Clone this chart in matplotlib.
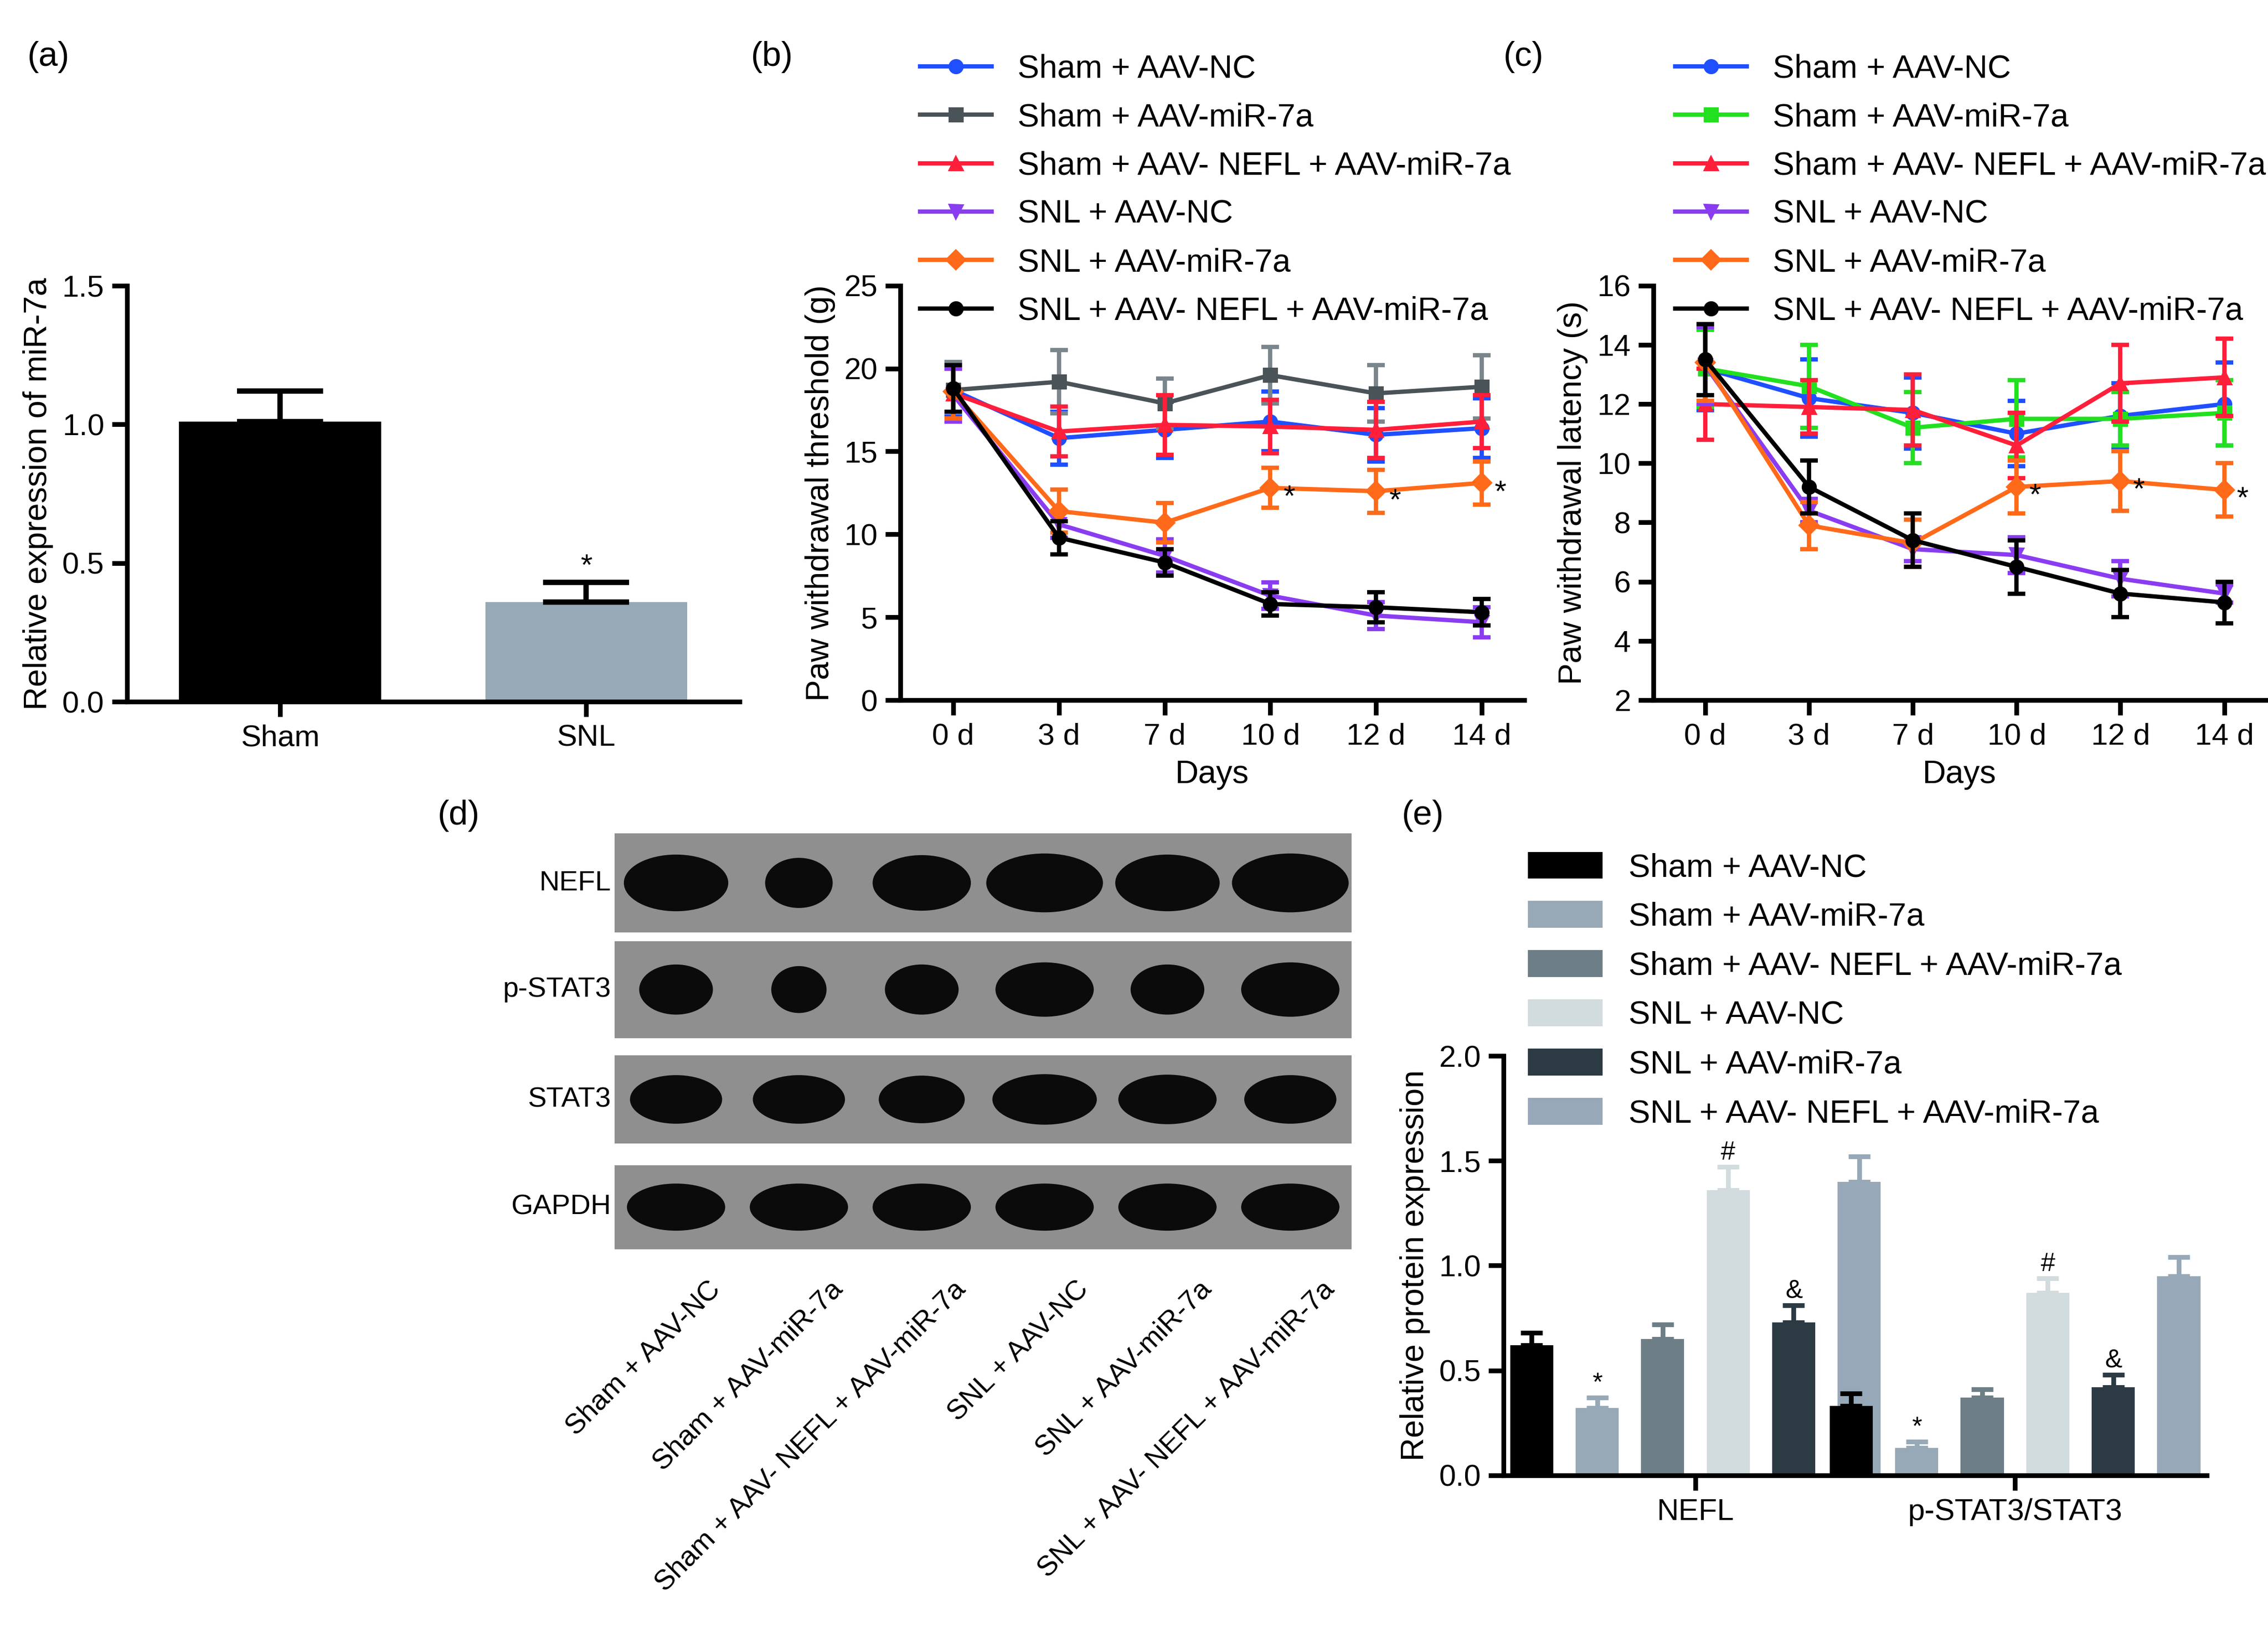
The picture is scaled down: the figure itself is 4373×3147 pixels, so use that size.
import numpy as np
import matplotlib
matplotlib.use('Agg')
import matplotlib.pyplot as plt
from matplotlib.patches import Ellipse, Rectangle

plt.rcParams['font.family'] = ['Liberation Sans', 'DejaVu Sans']
plt.rcParams['axes.linewidth'] = 2.2

# (a)
a_groups = ['Sham', 'SNL']
a_vals = [1.01, 0.36]
a_err = [0.11, 0.07]

# (b) / (c)
days = ['0 d', '3 d', '7 d', '10 d', '12 d', '14 d']
series_names = ['Sham + AAV-NC', 'Sham + AAV-miR-7a', 'Sham + AAV- NEFL + AAV-miR-7a',
                'SNL + AAV-NC', 'SNL + AAV-miR-7a', 'SNL + AAV- NEFL + AAV-miR-7a']
b_vals = [[18.7, 15.8, 16.3, 16.8, 16.0, 16.4],
          [18.7, 19.2, 17.9, 19.6, 18.5, 18.9],
          [18.5, 16.2, 16.6, 16.5, 16.3, 16.8],
          [18.4, 10.6, 8.7, 6.3, 5.1, 4.7],
          [18.6, 11.4, 10.7, 12.8, 12.6, 13.1],
          [18.8, 9.8, 8.3, 5.8, 5.6, 5.3]]
b_err = [[1.6, 1.6, 1.7, 1.8, 1.6, 1.8],
         [1.7, 1.9, 1.5, 1.7, 1.7, 1.9],
         [1.5, 1.5, 1.8, 1.6, 1.7, 1.6],
         [1.6, 0.8, 1.0, 0.8, 0.8, 0.9],
         [1.6, 1.3, 1.2, 1.2, 1.3, 1.3],
         [1.4, 1.0, 0.8, 0.7, 0.9, 0.8]]
c_vals = [[13.2, 12.2, 11.7, 11.0, 11.6, 12.0],
          [13.2, 12.6, 11.2, 11.5, 11.5, 11.7],
          [12.0, 11.9, 11.8, 10.6, 12.7, 12.9],
          [13.3, 8.4, 7.1, 6.9, 6.1, 5.6],
          [13.4, 7.9, 7.3, 9.2, 9.4, 9.1],
          [13.5, 9.2, 7.4, 6.5, 5.6, 5.3]]
c_err = [[1.4, 1.3, 1.2, 1.1, 1.1, 1.4],
         [1.3, 1.4, 1.2, 1.3, 0.9, 1.1],
         [1.2, 0.9, 1.2, 1.1, 1.3, 1.3],
         [1.3, 0.4, 0.4, 0.6, 0.6, 0.3],
         [1.3, 0.8, 0.8, 0.9, 1.0, 0.9],
         [1.2, 0.9, 0.9, 0.9, 0.8, 0.7]]
line_colors = ['#1f4fff', '#4a5358', '#ff1f3a', '#8a3df0', '#ff6a1a', '#000000']
c_colors = ['#1f4fff', '#22e01f', '#ff1f3a', '#8a3df0', '#ff6a1a', '#000000']
err_colors_b = ['#1f4fff', '#7a868c', '#ff1f3a', '#8a3df0', '#ff6a1a', '#000000']
markers = ['o', 's', '^', 'v', 'D', 'o']

# (d) blot band widths (relative) per row and lane
blot_rows = ['NEFL', 'p-STAT3', 'STAT3', 'GAPDH']
blot_bands = [[0.85, 0.55, 0.8, 0.95, 0.85, 0.95],
              [0.6, 0.45, 0.6, 0.8, 0.6, 0.8],
              [0.75, 0.75, 0.7, 0.85, 0.8, 0.75],
              [0.8, 0.8, 0.8, 0.8, 0.8, 0.8]]

# (e)
e_groups = ['NEFL', 'p-STAT3/STAT3']
e_vals = [[0.62, 0.32, 0.65, 1.36, 0.73, 1.40],
          [0.33, 0.13, 0.37, 0.87, 0.42, 0.95]]
e_err = [[0.06, 0.05, 0.07, 0.11, 0.08, 0.12],
         [0.06, 0.03, 0.04, 0.07, 0.06, 0.09]]
e_marks = ['', '*', '', '#', '&', '']
e_colors = ['#000000', '#97a9b6', '#6d7e86', '#d2dbdd', '#2c3a44', '#97a9b8']

fs = 14
fig = plt.figure(figsize=(4373 / 300, 3147 / 300), dpi=300)


def style(ax):
    for s in ['top', 'right']:
        ax.spines[s].set_visible(False)
    ax.tick_params(width=2.2, length=7, labelsize=fs)


# ---- (a)
ax = fig.add_axes([0.056, 0.570, 0.27, 0.255])
ax.bar([0, 1], a_vals, width=0.66, color=['#000000', '#97a9b6'])
ax.errorbar([0, 1], a_vals, yerr=[[0, 0], a_err], fmt='none', ecolor='black',
            elinewidth=2.5, capsize=20, capthick=2.5)
ax.text(1, a_vals[1] + a_err[1] + 0.005, '*', ha='center', va='bottom', fontsize=fs)
ax.set_xlim(-0.5, 1.5)
ax.set_ylim(0, 1.5)
ax.set_yticks([0, 0.5, 1.0, 1.5])
ax.set_yticklabels(['0.0', '0.5', '1.0', '1.5'])
ax.set_xticks([0, 1])
ax.set_xticklabels(a_groups)
ax.set_ylabel('Relative expression of miR-7a', fontsize=fs + 1)
style(ax)
fig.text(0.012, 0.975, '(a)', fontsize=fs + 2, va='top')


def line_panel(rect, vals, errs, colors, ecolors, ylim, yticks, ylabel, stars, star_off, label, lx):
    ax = fig.add_axes(rect)
    x = np.arange(len(days))
    handles = []
    for i in range(6):
        ax.errorbar(x, vals[i], yerr=errs[i], fmt='none', ecolor=ecolors[i],
                    elinewidth=2, capsize=4, capthick=2)
        h, = ax.plot(x, vals[i], color=colors[i], lw=2, marker=markers[i], ms=6)
        handles.append(h)
    for j in stars:
        ax.text(j + 0.12, vals[4][j] - star_off, '*', fontsize=fs)
    ax.set_xlim(-0.5, 5.4)
    ax.set_ylim(*ylim)
    ax.set_yticks(yticks)
    ax.set_xticks(x)
    ax.set_xticklabels(days)
    ax.set_xlabel('Days', fontsize=fs + 1)
    ax.set_ylabel(ylabel, fontsize=fs + 1)
    style(ax)
    fig.legend(handles, series_names, loc='upper left', bbox_to_anchor=(lx, 0.975),
               frameon=False, fontsize=fs + 1, handlelength=2.2, labelspacing=0.55,
               borderaxespad=0)
    fig.text(rect[0] - 0.066, 0.975, label, fontsize=fs + 2, va='top')
    return ax


ax_b = line_panel([0.397, 0.571, 0.275, 0.254], b_vals, b_err, line_colors, err_colors_b,
                  (0, 25), [0, 5, 10, 15, 20, 25], 'Paw withdrawal threshold (g)',
                  [3, 4, 5], 1.1, '(b)', 0.400)
ax_c = line_panel([0.729, 0.571, 0.27, 0.254], c_vals, c_err, c_colors, c_colors,
                  (2, 16), [2, 4, 6, 8, 10, 12, 14, 16], 'Paw withdrawal latency (s)',
                  [3, 4, 5], 0.6, '(c)', 0.733)

# ---- (d) western blot
axd = fig.add_axes([0.271, 0.228, 0.325, 0.264])
axd.set_xlim(0, 6)
axd.set_ylim(0, 4)
axd.axis('off')
row_h = [0.92, 0.9, 0.82, 0.78]
row_y = [3.04, 2.06, 1.08, 0.1]
for r in range(4):
    axd.add_patch(Rectangle((0, row_y[r]), 6, row_h[r], color='#8f8f8f', lw=0))
    yc = row_y[r] + row_h[r] / 2
    for k in range(6):
        w = blot_bands[r][k]
        axd.add_patch(Ellipse((k + 0.5, yc), w, row_h[r] * 0.55 * (0.7 + 0.4 * w),
                              color='#0b0b0b', lw=0))
    axd.text(-0.03, yc, blot_rows[r], ha='right', va='center', fontsize=fs - 1)
for k in range(6):
    axd.text(k + 0.75, -0.15, series_names[k], rotation=45, ha='right', va='top',
             fontsize=fs - 1, rotation_mode='anchor')
fig.text(0.193, 0.51, '(d)', fontsize=fs + 2, va='top')

# ---- (e)
axe = fig.add_axes([0.663, 0.096, 0.31, 0.257])
bw = 0.135
hs = []
for g in range(2):
    for k in range(6):
        xp = g + (k - 2.5) * (bw + 0.07)
        hb = axe.bar(xp, e_vals[g][k], width=bw, color=e_colors[k])
        axe.errorbar(xp, e_vals[g][k], yerr=[[0], [e_err[g][k]]], fmt='none',
                     ecolor=e_colors[k], elinewidth=2.2, capsize=5, capthick=2.2)
        if e_marks[k]:
            axe.text(xp, e_vals[g][k] + e_err[g][k] + 0.01, e_marks[k],
                     ha='center', va='bottom', fontsize=fs - 2)
        if g == 0:
            hs.append(hb)
axe.set_xlim(-0.6, 1.6)
axe.set_ylim(0, 2.0)
axe.set_yticks([0, 0.5, 1.0, 1.5, 2.0])
axe.set_yticklabels(['0.0', '0.5', '1.0', '1.5', '2.0'])
axe.set_xticks([0, 1])
axe.set_xticklabels(e_groups)
axe.tick_params(axis='x', length=0)
axe.set_ylabel('Relative protein expression', fontsize=fs + 1)
style(axe)
fig.legend(hs, series_names, loc='upper left', bbox_to_anchor=(0.668, 0.486), frameon=False,
           fontsize=fs + 1, handlelength=2.3, handleheight=0.9, labelspacing=0.55,
           borderaxespad=0)
fig.text(0.618, 0.51, '(e)', fontsize=fs + 2, va='top')

fig.savefig('out.png', dpi=300)
